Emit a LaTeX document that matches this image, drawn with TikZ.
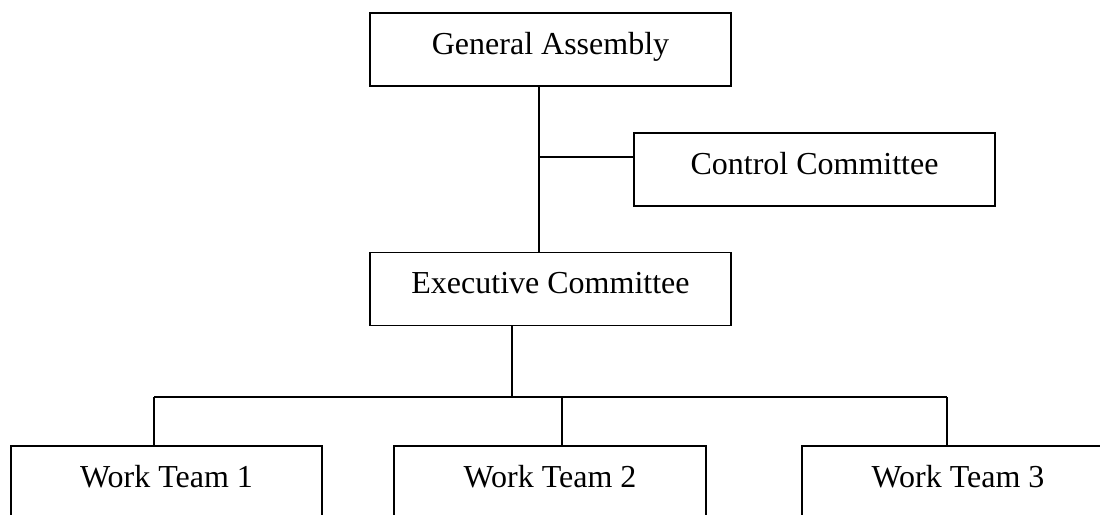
\documentclass[tikz,border=0pt]{standalone}
\usepackage{fontspec}
\setmainfont{Liberation Serif}
\usetikzlibrary{calc,positioning}

\begin{document}
\begin{tikzpicture}[x=1pt,y=-1pt,
    unit/.style={draw, line width=1.5pt, inner sep=0pt, minimum height=73,
      text height=22pt, text depth=13pt, font=\fontsize{32}{38}\selectfont},
    link/.style={line width=1.5pt}]
    \clip (0,0) rectangle (1100,514);
    \node[unit, minimum width=361] (assembly) at (550.5,49.5) {General Assembly};
    \node[unit, minimum width=361] (control) at (814.5,169.5) {Control Committee};
    \node[unit, minimum width=361] (executive) at (550.5,289) {Executive Committee};
    \node[unit, minimum width=311] (team1) at (166.5,482.5) {Work Team 1};
    \node[unit, minimum width=312] (team2) at (550,482.5) {Work Team 2};
    \node[unit, minimum width=312] (team3) at (958,482.5) {Work Team 3};
    %%
    \coordinate (trunk) at (539,157);
    \coordinate (hub) at (512,397);
    \coordinate (drop1) at (154,397);
    \coordinate (drop2) at (562,397);
    \coordinate (drop3) at (947,397);
    \draw[link] (trunk |- assembly.south) -- (trunk |- executive.north);
    \draw[link] (trunk) -- (trunk -| control.west);
    \draw[link] (hub |- executive.south) -- (hub);
    \draw[link] (drop1) -- (drop3);
    \foreach \i in {1,2,3}
      \draw[link] (drop\i) -- (drop\i |- team\i.north);
\end{tikzpicture}
\end{document}
